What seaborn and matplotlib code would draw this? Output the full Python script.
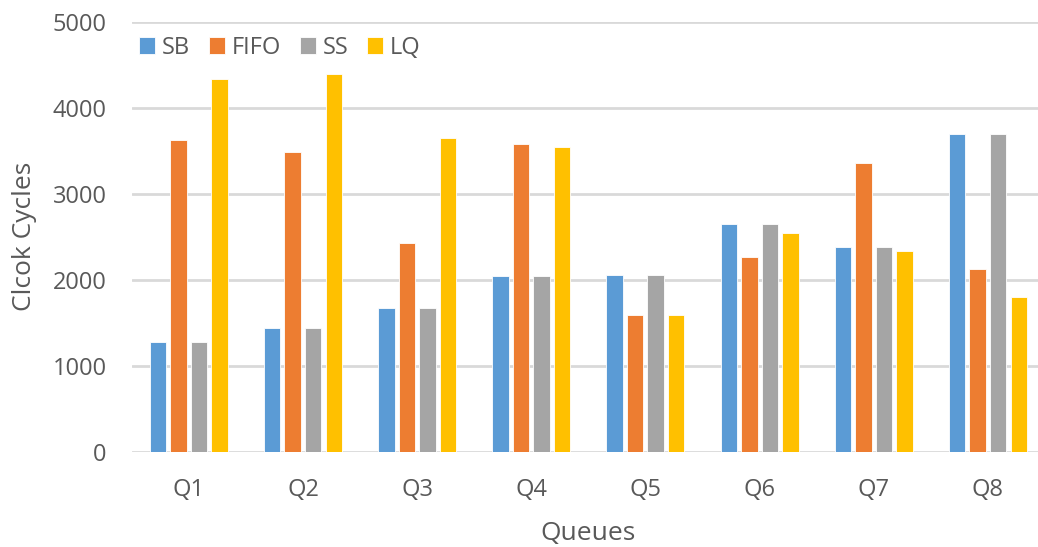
import matplotlib
matplotlib.use("Agg")
import matplotlib.pyplot as plt
import seaborn as sns
import pandas as pd

queues = ["Q1", "Q2", "Q3", "Q4", "Q5", "Q6", "Q7", "Q8"]
series = ["SB", "FIFO", "SS", "LQ"]
sb = [1280, 1444, 1670, 2042, 2057, 2654, 2387, 3698]
fifo = [3625, 3490, 2430, 3578, 1595, 2267, 3357, 2130]
ss = [1280, 1444, 1670, 2042, 2057, 2654, 2387, 3698]
lq = [4340, 4400, 3655, 3550, 1595, 2550, 2340, 1801]
colors = ["#5B9BD5", "#ED7D31", "#A5A5A5", "#FFC000"]

df = pd.DataFrame({
    "Queue": queues * 4,
    "Series": [s for s in series for _ in queues],
    "Cycles": sb + fifo + ss + lq,
})

sns.set_theme(style="white")
plt.rcParams["font.family"] = ["Open Sans", "DejaVu Sans"]
text_color = "#595959"

fig = plt.figure(figsize=(10.38, 5.47), dpi=100)
ax = fig.add_axes([131.7 / 1038, (547 - 451.7) / 547, 913.3 / 1038, 429.7 / 547])

sns.barplot(data=df, x="Queue", y="Cycles", hue="Series", hue_order=series,
            palette=colors, width=0.72, gap=0.2, edgecolor="white",
            linewidth=0.6, saturation=1, ax=ax, zorder=3)

ax.set_xlim(-0.5, 7.5)
ax.set_ylim(0, 5000)
ax.set_yticks(range(0, 5001, 1000))
ax.yaxis.grid(True, color="#D9D9D9", linewidth=2)
ax.set_axisbelow(True)
for s in ax.spines.values():
    s.set_visible(False)
ax.tick_params(axis="both", length=0, labelsize=17, labelcolor=text_color)
ax.tick_params(axis="y", pad=18)
ax.tick_params(axis="x", pad=19)

ax.set_xlabel("Queues", fontsize=19, color=text_color, va="center")
ax.set_ylabel("Clcok Cycles", fontsize=19, color=text_color, va="center")
ax.xaxis.set_label_coords(0.5, -0.1915)
ax.yaxis.set_label_coords(-0.117, 0.5)

handles, labels = ax.get_legend_handles_labels()
ax.legend(handles, labels, ncol=4, loc="upper left", bbox_to_anchor=(-0.002, 0.99),
          frameon=False, fontsize=17, labelcolor=text_color,
          handlelength=0.68, handleheight=0.68, handletextpad=0.28,
          columnspacing=0.8, borderaxespad=0)

fig.savefig("out.png", dpi=100)
